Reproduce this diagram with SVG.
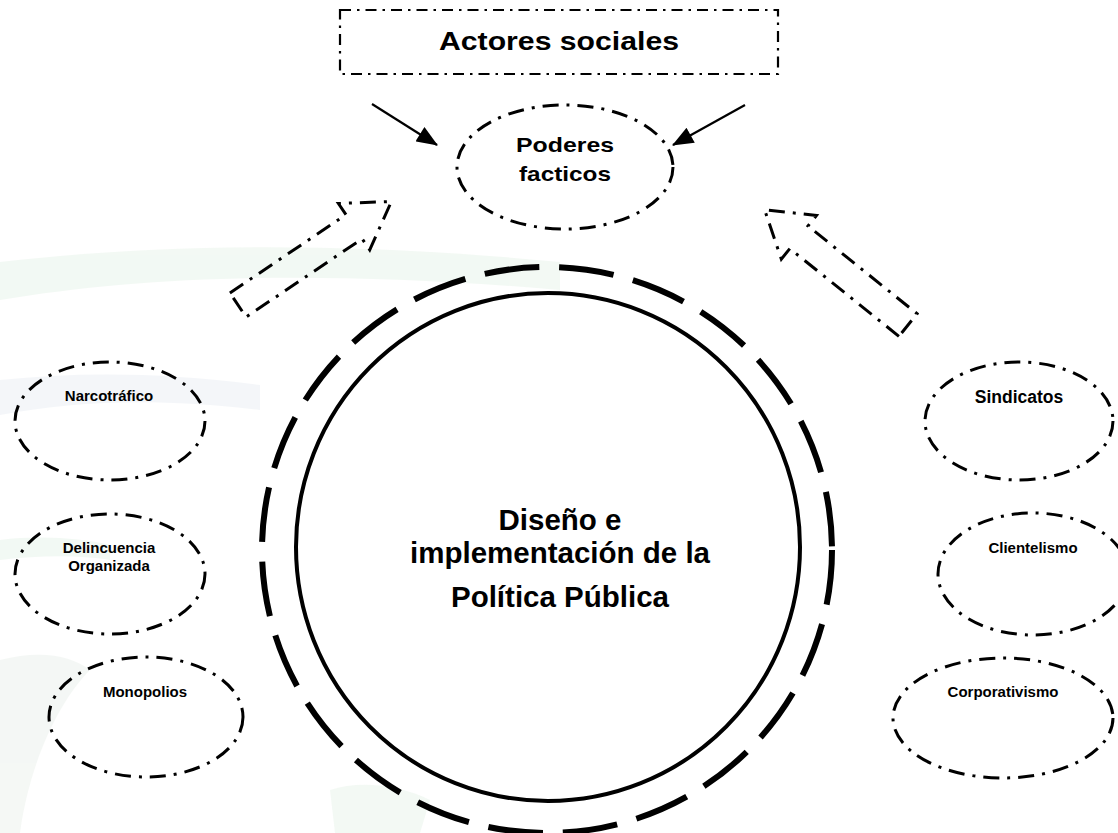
<svg xmlns="http://www.w3.org/2000/svg" width="1118" height="833" viewBox="0 0 1118 833">
<defs>
<style>
.dd{fill:none;stroke:#000;stroke-width:3;stroke-dasharray:16 8 3 8}
.ddr{fill:none;stroke:#000;stroke-width:2.2;stroke-dasharray:11 6 2.5 6}
.lbl{font-family:"Liberation Sans",Arial,sans-serif;font-weight:bold;fill:#000;text-anchor:middle}
.wm{stroke:none}
</style>
<marker id="ah" viewBox="0 0 20 16" refX="19" refY="8" markerWidth="22" markerHeight="17" markerUnits="userSpaceOnUse" orient="auto">
<path d="M0,0 L20,8 L0,16 z" fill="#000"/>
</marker>
</defs>
<rect width="1118" height="833" fill="#fff"/>
<g id="watermark" opacity="0.35">
<path class="wm" d="M0,262 C150,245 330,240 560,262 L560,290 C330,270 150,275 0,300 z" fill="#dcefe0"/>
<path class="wm" d="M0,380 C80,372 160,372 260,385 L260,410 C160,398 80,400 0,415 z" fill="#e1e7f0"/>
<path class="wm" d="M0,540 C40,535 80,538 110,545 L110,560 C80,555 40,555 0,560 z" fill="#dcefe0"/>
<path class="wm" d="M0,660 C40,650 70,655 90,670 C60,700 30,760 20,833 L0,833 z" fill="#e1ebe3"/>
<path class="wm" d="M330,790 C360,780 400,785 430,800 L420,833 L335,833 z" fill="#dcefe0"/>
</g>
<g id="actores">
<rect class="ddr" x="340" y="10" width="438" height="64"/>
<text class="lbl" x="559" y="50" font-size="26" textLength="240" lengthAdjust="spacingAndGlyphs">Actores sociales</text>
</g>
<g id="poderes">
<ellipse class="dd" cx="565" cy="167" rx="108" ry="62"/>
<text class="lbl" x="565" y="152" font-size="21" textLength="98" lengthAdjust="spacingAndGlyphs">Poderes</text>
<text class="lbl" x="565" y="181" font-size="21" textLength="92" lengthAdjust="spacingAndGlyphs">facticos</text>
</g>
<g id="politica">
<ellipse cx="547" cy="550" rx="285" ry="283" fill="none" stroke="#000" stroke-width="6" stroke-dasharray="55 20"/>
<ellipse cx="548" cy="547" rx="252" ry="254" fill="none" stroke="#000" stroke-width="4"/>
<text class="lbl" x="560" y="530" font-size="29.5">Diseño e</text>
<text class="lbl" x="560" y="563" font-size="29.5">implementación de la</text>
<text class="lbl" x="560" y="607" font-size="29.5">Política Pública</text>
</g>
<g id="narcotrafico">
<ellipse class="dd" cx="110" cy="421" rx="95" ry="59"/>
<text class="lbl" x="109" y="401" font-size="15">Narcotráfico</text>
</g>
<g id="delincuencia">
<ellipse class="dd" cx="110" cy="574" rx="95" ry="60"/>
<text class="lbl" x="109" y="553" font-size="15">Delincuencia</text>
<text class="lbl" x="109" y="571" font-size="15">Organizada</text>
</g>
<g id="monopolios">
<ellipse class="dd" cx="146" cy="717" rx="97" ry="60"/>
<text class="lbl" x="145" y="697" font-size="15">Monopolios</text>
</g>
<g id="sindicatos">
<ellipse class="dd" cx="1019" cy="421" rx="94" ry="59"/>
<text class="lbl" x="1019" y="403" font-size="17.5">Sindicatos</text>
</g>
<g id="clientelismo">
<ellipse class="dd" cx="1033" cy="574" rx="95" ry="61"/>
<text class="lbl" x="1033" y="553" font-size="15">Clientelismo</text>
</g>
<g id="corporativismo">
<ellipse class="dd" cx="1003" cy="718" rx="110" ry="60"/>
<text class="lbl" x="1003" y="697" font-size="15">Corporativismo</text>
</g>
<g id="connectors">
<line x1="372" y1="104" x2="437" y2="145" stroke="#000" stroke-width="2.2" marker-end="url(#ah)"/>
<line x1="745" y1="105" x2="673" y2="145" stroke="#000" stroke-width="2.2" marker-end="url(#ah)"/>
<polygon class="dd" transform="translate(238,305) rotate(-34)" points="0,-14.5 140,-14.5 140,-28 185,0 140,28 140,14.5 0,14.5"/>
<polygon class="dd" transform="translate(908,325) rotate(-141.2)" points="0,-14.5 140,-14.5 140,-28 184,0 140,28 140,14.5 0,14.5"/>
</g>
</svg>
